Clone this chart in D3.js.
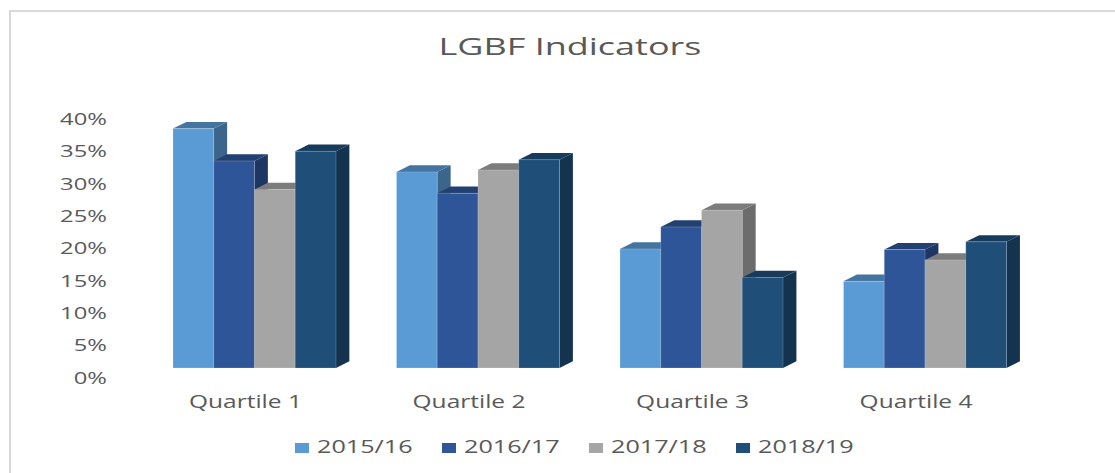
<!DOCTYPE html>
<html>
<head>
<meta charset="utf-8">
<script src="https://cdn.jsdelivr.net/npm/d3@7"></script>
<style>
  html, body { margin: 0; padding: 0; background: #fff; }
  svg text { font-family: "Open Sans", sans-serif; fill: #595959; }
</style>
</head>
<body>
<div id="chart"></div>
<script>
// chart data
var quartiles = ["Quartile 1", "Quartile 2", "Quartile 3", "Quartile 4"];
var years = ["2015/16", "2016/17", "2017/18", "2018/19"];
var v1516 = [0.370, 0.303, 0.184, 0.134];
var v1617 = [0.320, 0.270, 0.218, 0.183];
var v1718 = [0.276, 0.306, 0.244, 0.167];
var v1819 = [0.335, 0.322, 0.140, 0.195];
var yTicks = [0, 0.05, 0.10, 0.15, 0.20, 0.25, 0.30, 0.35, 0.40];
var colors = ["#5B9BD5", "#2E5597", "#A5A5A5", "#1F4E79"];

var W = 1115, H = 473;
var SX = 1.4;          // reference text is drawn a bit wide
var DX = 13.4, DY = 6.7; // 3d depth offset

var series = [v1516, v1617, v1718, v1819];

var svg = d3.select("#chart").append("svg")
    .attr("width", W).attr("height", H);

// frame
svg.append("rect")
    .attr("x", 10).attr("y", 11)
    .attr("width", W + 20).attr("height", H + 20)
    .attr("fill", "none").attr("stroke", "#d9d9d9").attr("stroke-width", 2);

// text helper: stretched horizontally around its anchor point
var addText = function(g, x, y, str, size, anchor, sx) {
    return g.append("text")
        .attr("transform", "translate(" + x + "," + y + ") scale(" + (sx || SX) + ",1)")
        .attr("text-anchor", anchor || "start")
        .style("font-size", size + "px")
        .text(str);
};

addText(svg, 570, 55, "LGBF Indicators", 24, "middle", 1.5);

/***************************
 * scales
 ***************************/
var x0 = d3.scaleBand()
    .domain(quartiles)
    .range([120, 1059.5])
    .paddingInner(0.2707)
    .paddingOuter(0.237);
var x1 = d3.scaleBand()
    .domain(years)
    .range([0, x0.bandwidth()]);
var y = d3.scaleLinear()
    .domain([0, 0.4])
    .range([368, 368 - 258.8]);

// y axis labels (drawn on the back wall, a little lower than front face)
var yAxis = d3.axisLeft(y)
    .tickValues(yTicks)
    .tickFormat(d3.format(".0%"))
    .tickSize(0).tickPadding(0);
var axG = svg.append("g")
    .attr("transform", "translate(107,9)")
    .call(yAxis);
axG.select(".domain").remove();
axG.selectAll(".tick text").each(function() {
    var t = d3.select(this);
    var yy = +t.attr("y") || 0;
    t.attr("x", null)
        .attr("transform", "scale(" + SX + ",1)")
        .attr("dy", "0.36em")
        .style("font-size", "17px")
        .style("font-family", "Open Sans, sans-serif")
        .attr("fill", "#595959");
});

// category labels
quartiles.forEach(function(q) {
    addText(svg, x0(q) + x0.bandwidth() / 2 - 9, 408, q, 17.5, "middle");
});

/***************************
 * 3d bars
 ***************************/
var barsG = svg.append("g");
quartiles.forEach(function(q, qi) {
    years.forEach(function(yr, si) {
        var v = series[si][qi];
        var xl = x0(q) + x1(yr), xr = xl + x1.bandwidth();
        var yt = y(v), yb = y(0);
        var base = d3.color(colors[si]);
        var g = barsG.append("g");
        // side face
        g.append("path")
            .attr("d", "M" + xr + "," + yt + "L" + (xr + DX) + "," + (yt - DY) +
                "L" + (xr + DX) + "," + (yb - DY) + "L" + xr + "," + yb + "Z")
            .attr("fill", base.darker(1.2).formatHex());
        // top face
        g.append("path")
            .attr("d", "M" + xl + "," + yt + "L" + xr + "," + yt +
                "L" + (xr + DX) + "," + (yt - DY) + "L" + (xl + DX) + "," + (yt - DY) + "Z")
            .attr("fill", base.darker(0.8).formatHex());
        // front face
        g.append("rect")
            .attr("x", xl).attr("y", yt)
            .attr("width", x1.bandwidth()).attr("height", yb - yt)
            .attr("fill", colors[si])
            .attr("stroke", "rgba(255,255,255,0.18)").attr("stroke-width", 1);
    });
});

/***************************
 * legend
 ***************************/
var legG = svg.append("g");
years.forEach(function(yr, i) {
    var lx = 295 + i * 147;
    legG.append("rect")
        .attr("x", lx).attr("y", 443)
        .attr("width", 14).attr("height", 10)
        .attr("fill", colors[i]);
    addText(legG, lx + 22, 453, yr, 18, "start");
});
</script>
</body>
</html>
